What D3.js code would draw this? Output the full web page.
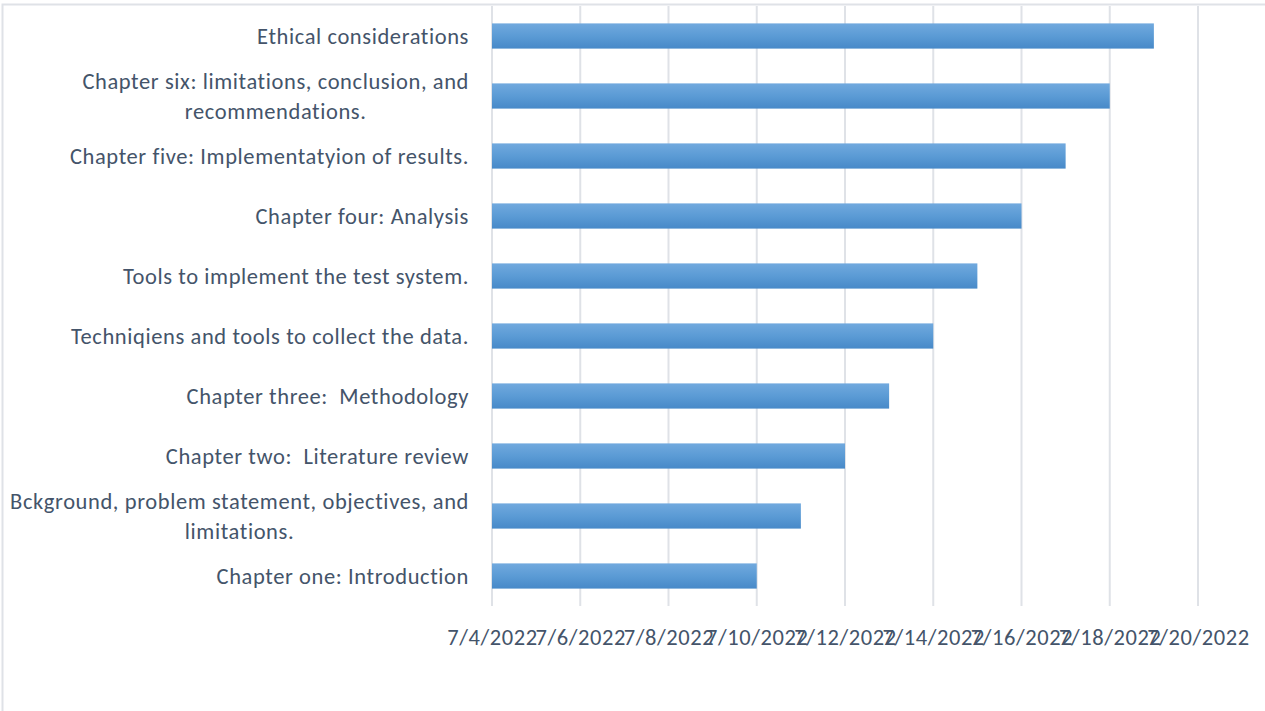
<!doctype html>
<html lang="en">
<head>
<meta charset="utf-8">
<title>Project schedule</title>
<script src="https://cdn.jsdelivr.net/npm/d3@7"></script>
<style>
  body { margin: 0; background: #fff; }
  svg text { font-family: Carlito, Calibri, Lato, sans-serif; fill: #44546a; white-space: pre; letter-spacing: 0.6px; }
</style>
</head>
<body>
<div id="chart"></div>
<script>

// tasks, listed top to bottom as they appear
const tasks = [
  'Ethical considerations',
  'Chapter six: limitations, conclusion, and recommendations.',
  'Chapter five: Implementatyion of results.',
  'Chapter four: Analysis',
  'Tools to implement the test system.',
  'Techniqiens and tools to collect the data.',
  'Chapter three:  Methodology',
  'Chapter two:  Literature review',
  'Bckground, problem statement, objectives, and limitations.',
  'Chapter one: Introduction'
];
const startDates = ['2022-07-04', '2022-07-04', '2022-07-04', '2022-07-04', '2022-07-04',
                    '2022-07-04', '2022-07-04', '2022-07-04', '2022-07-04', '2022-07-04'];
const endDates = ['2022-07-19', '2022-07-18', '2022-07-17', '2022-07-16', '2022-07-15',
                  '2022-07-14', '2022-07-13', '2022-07-12', '2022-07-11', '2022-07-10'];
const tickDates = ['2022-07-04', '2022-07-06', '2022-07-08', '2022-07-10', '2022-07-12',
                   '2022-07-14', '2022-07-16', '2022-07-18', '2022-07-20'];

const width = 1265, height = 711;
const margin = {top: 6, right: 67, bottom: 105, left: 492};
const fontSize = '22.5px';

const parse = d3.timeParse('%Y-%m-%d');
const fmt = d3.timeFormat('%-m/%-d/%Y');
const rows = tasks.map((t, i) => ({task: t, start: parse(startDates[i]), end: parse(endDates[i])}));
const ticks = tickDates.map(parse);

const svg = d3.select('#chart').append('svg')
    .attr('width', width)
    .attr('height', height);

// chart frame (runs off the right and bottom edges)
svg.append('rect')
    .attr('x', 2.5).attr('y', 4.5)
    .attr('width', width + 20).attr('height', height + 20)
    .style('fill', 'none')
    .style('stroke', '#dfe2e7')
    .style('stroke-width', 2);

const defs = svg.append('defs');
const grad = defs.append('linearGradient')
    .attr('id', 'barFill')
    .attr('x1', 0).attr('y1', 0).attr('x2', 0).attr('y2', 1);
grad.append('stop').attr('offset', '0%').attr('stop-color', '#71a9de');
grad.append('stop').attr('offset', '50%').attr('stop-color', '#5b9bd5');
grad.append('stop').attr('offset', '100%').attr('stop-color', '#4789c8');

const x = d3.scaleTime()
    .domain([ticks[0], ticks[ticks.length - 1]])
    .range([margin.left, width - margin.right]);

const y = d3.scaleBand()
    .domain(tasks)
    .range([margin.top, height - margin.bottom])
    .paddingInner(0.58)
    .paddingOuter(0.29);

// vertical gridlines
svg.append('g')
  .selectAll('line')
  .data(ticks)
  .join('line')
    .attr('x1', d => x(d)).attr('x2', d => x(d))
    .attr('y1', margin.top).attr('y2', height - margin.bottom)
    .style('stroke', '#dfe2e7')
    .style('stroke-width', 2);

// bars
svg.append('g')
  .selectAll('rect')
  .data(rows)
  .join('rect')
    .attr('x', d => x(d.start))
    .attr('y', d => y(d.task))
    .attr('width', d => x(d.end) - x(d.start))
    .attr('height', y.bandwidth())
    .style('fill', 'url(#barFill)');

// date axis labels
const xAxis = d3.axisBottom(x)
    .tickValues(ticks)
    .tickFormat(fmt)
    .tickSize(0)
    .tickPadding(23);

const gx = svg.append('g')
    .attr('transform', `translate(0,${height - margin.bottom})`)
    .call(xAxis);
gx.select('.domain').remove();
gx.selectAll('text')
    .attr('fill', null)
    .style('font-family', null)
    .style('font-size', fontSize);

// category labels, wrapped and centred like Excel does
const labelRight = margin.left - 23;
const maxLabel = 478;
const lineH = 30;

const labels = svg.append('g')
  .selectAll('text')
  .data(rows)
  .join('text')
    .style('font-size', fontSize);

labels.each(function(d) {
  const el = d3.select(this);
  const words = d.task.split(' ');
  const lines = [];
  let cur = '';
  const probe = el.append('tspan');
  words.forEach(w => {
    const test = cur ? cur + ' ' + w : w;
    probe.text(test);
    if (probe.node().getComputedTextLength() > maxLabel && cur) {
      lines.push(cur);
      cur = w;
    } else {
      cur = test;
    }
  });
  lines.push(cur);
  let widest = 0;
  lines.forEach(l => {
    probe.text(l);
    widest = Math.max(widest, probe.node().getComputedTextLength());
  });
  probe.remove();

  const cy = y(d.task) + y.bandwidth() / 2;
  const cx = labelRight - widest / 2;
  const top = cy - (lines.length - 1) * lineH / 2;
  el.attr('text-anchor', 'middle');
  lines.forEach((l, i) => {
    el.append('tspan')
      .attr('x', cx)
      .attr('y', top + i * lineH)
      .attr('dy', '0.35em')
      .text(l);
  });
});

</script>
</body>
</html>
